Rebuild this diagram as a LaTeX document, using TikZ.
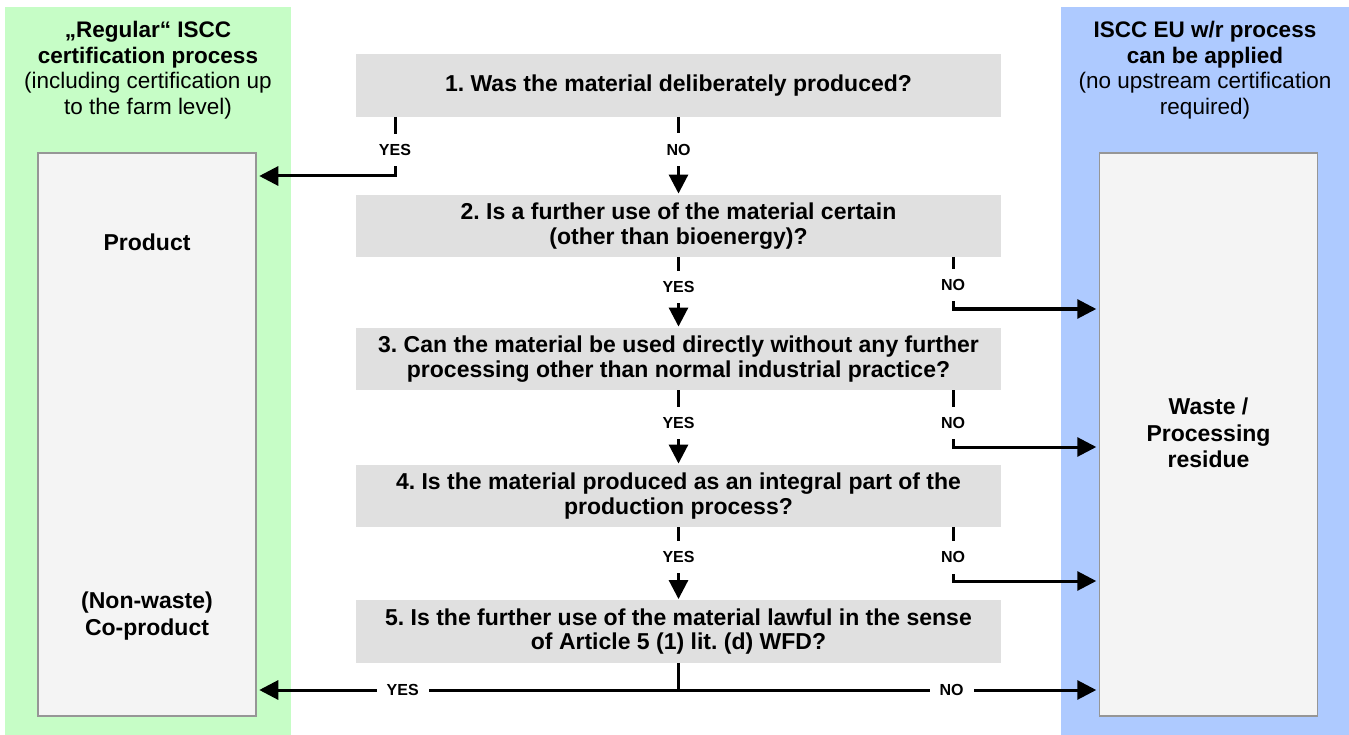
\documentclass[tikz,border=0pt]{standalone}
\usepackage{fontspec}
\setmainfont{Liberation Sans}
\usetikzlibrary{arrows.meta}
\definecolor{colgreen}{RGB}{198,253,198}
\definecolor{colblue}{RGB}{174,202,255}
\definecolor{qgray}{RGB}{224,224,224}
\definecolor{resgray}{RGB}{244,244,244}
\definecolor{resborder}{RGB}{150,150,150}
\frenchspacing
\begin{document}
\begin{tikzpicture}[x=1pt,y=-1pt,
  column/.style={inner sep=0pt, minimum height=728pt, anchor=center},
  question/.style={fill=qgray, minimum width=645pt, minimum height=62.5pt, inner sep=0pt, align=center, font=\fontsize{23}{24.5}\selectfont\bfseries},
  result/.style={draw=resborder, line width=1.5pt, fill=resgray, minimum width=218pt, minimum height=563pt, inner sep=0pt},
  reslabel/.style={align=center, inner sep=0pt, font=\fontsize{23}{26.5}\selectfont\bfseries},
  header/.style={align=center, inner sep=0pt, font=\fontsize{22.5}{25.5}\selectfont},
  conn/.style={line width=3pt, -{Triangle[length=19pt,width=19pt]}, shorten >=2.5pt},
  downconn/.style={conn, shorten >=1pt},
  plainline/.style={line width=3pt},
  lbl/.style={fill=white, inner xsep=10pt, inner ysep=10.5pt, font=\fontsize{16}{16}\selectfont\bfseries},
]
\useasboundingbox (0,0) rectangle (1349,735);
\fill[white] (0,0) rectangle (1349,735);

% columns
\node[column, fill=colgreen, minimum width=286pt] (greencol) at (148,371) {};
\node[column, fill=colblue, minimum width=288pt] (bluecol) at (1205,371) {};

% headers
\node[header] (hleft) at (148,70) {\textbf{„Regular“ ISCC}\\\textbf{certification process}\\(including certification up\\to the farm level)};
\node[header] (hright) at (1205,70) {\textbf{ISCC EU w/r process}\\\textbf{can be applied}\\(no upstream certification\\required)};

% result boxes
\node[result] (prod) at (147,434.5) {};
\node[result] (waste) at (1208.5,434.5) {};
\node[reslabel, anchor=base] (prodlbl) at (147,251) {Product};
\node[reslabel] (coprodlbl) at (147,616) {(Non-waste)\\Co-product};
\node[reslabel] (wastelbl) at (1208.5,433) {Waste /\\Processing\\residue};

% questions
\node[question] (b1) at (678.5,85.5) {1. Was the material deliberately produced?};
\node[question] (b2) at (678.5,226) {2. Is a further use of the material certain\\(other than bioenergy)?};
\node[question] (b3) at (678.5,359) {3. Can the material be used directly without any further\\processing other than normal industrial practice?};
\node[question] (b4) at (678.5,496) {4. Is the material produced as an integral part of the\\production process?};
\node[question] (b5) at (678.5,631.5) {5. Is the further use of the material lawful in the sense\\of Article 5 (1) lit. (d) WFD?};

% corner points
\coordinate (k1) at (395,176);
\coordinate (k2) at (953,309);
\coordinate (k3) at (953,447);
\coordinate (k4) at (953,581);
\coordinate (k5) at (678.5,690);

% connectors
\draw[conn] (b1.south -| k1) -- node[lbl,pos=0.56]{YES} (k1) -- (prod.east |- k1);
\draw[downconn] (b1.south) -- node[lbl,pos=0.42]{NO} (b2.north);
\draw[downconn] (b2.south) -- node[lbl,pos=0.42]{YES} (b3.north);
\draw[conn] (b2.south -| k2) -- node[lbl,pos=0.54]{NO} (k2) -- (waste.west |- k2);
\draw[downconn] (b3.south) -- node[lbl,pos=0.44]{YES} (b4.north);
\draw[conn] (b3.south -| k3) -- node[lbl,pos=0.58]{NO} (k3) -- (waste.west |- k3);
\draw[downconn] (b4.south) -- node[lbl,pos=0.41]{YES} (b5.north);
\draw[conn] (b4.south -| k4) -- node[lbl,pos=0.56]{NO} (k4) -- (waste.west |- k4);
\draw[plainline] (b5.south) -- (k5);
\draw[conn] (k5) -- node[lbl,pos=0.654]{YES} (prod.east |- k5);
\draw[conn] (k5) -- node[lbl,pos=0.65]{NO} (waste.west |- k5);
\end{tikzpicture}
\end{document}
